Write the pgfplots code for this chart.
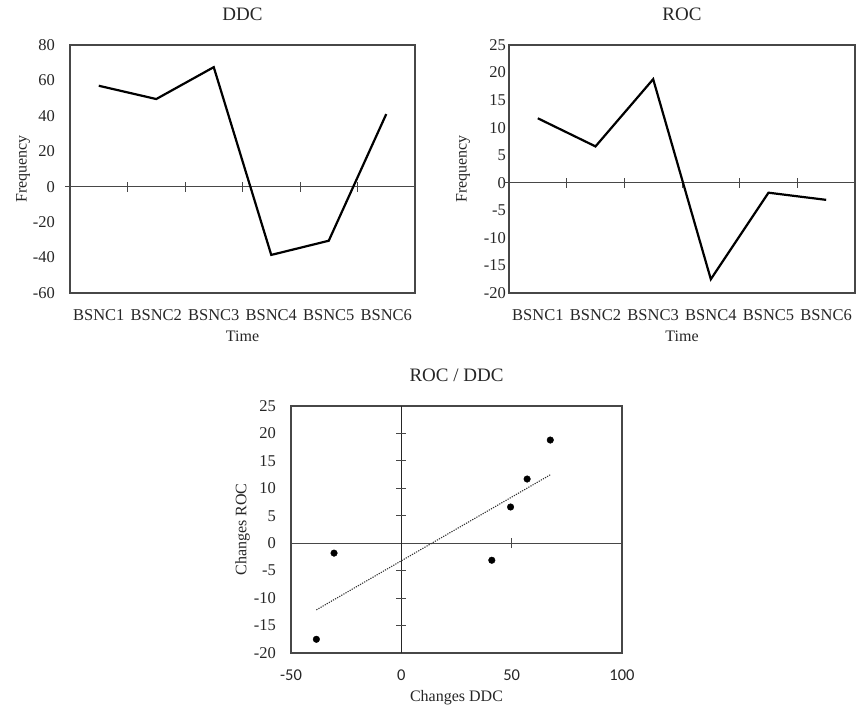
\documentclass[border=0pt]{standalone}
\usepackage{fontspec}
\setmainfont{Liberation Serif}
\newfontfamily\carlito{Carlito}
\usepackage{pgfplots}
\pgfplotsset{compat=1.18}
\pgfplotsset{
  base/.style={
    scale only axis, clip=false,
    /pgf/number format/assume math mode=true,
    axis line style={draw=black!72, line width=1.2pt},
    tick style={draw=none},
    tick label style={font=\fontsize{16.5}{19}\selectfont, text=black!85},
    label style={font=\fontsize{16}{19}\selectfont, text=black!85},
    title style={font=\fontsize{19}{22}\selectfont, text=black!85, at={(axis description cs:0.5,1)}, anchor=center, yshift=25pt},
    xlabel style={at={(axis description cs:0.5,0)}, anchor=center, yshift=-43pt},
    xticklabel style={anchor=center, yshift=-22pt},
    yticklabel style={anchor=east, inner sep=0pt},
  },
  cat/.style={
    base, xmin=-0.5, xmax=5.5, xtick={0,1,2,3,4,5},
    xticklabels={BSNC1,BSNC2,BSNC3,BSNC4,BSNC5,BSNC6},
    xlabel={Time}, ylabel={Frequency},
  },
}
\begin{document}
\begin{tikzpicture}
\path[use as bounding box] (0,0) rectangle (857pt,-707pt);

% DDC
\begin{axis}[cat, at={(70pt,-293pt)}, anchor=south west, width=345pt, height=248pt,
  ymin=-60, ymax=80, ytick={-60,-40,...,80}, title={DDC},
  yticklabel style={xshift=-15pt},
  ylabel style={at={([xshift=-47pt]axis description cs:0,0.5)}, anchor=center, rotate=0}]
\draw[black!72, line width=1pt] ([xshift=-5pt]axis cs:-0.5,0) -- (axis cs:5.5,0);
\pgfplotsinvokeforeach{0.5,1.5,2.5,3.5,4.5}{\draw[black!72, line width=1pt] ([yshift=-5pt]axis cs:#1,0) -- ([yshift=5pt]axis cs:#1,0);}
\addplot[black, line width=2.2pt, mark=none] coordinates {(0,57) (1,49.5) (2,67.5) (3,-38.5) (4,-30.5) (5,41)};
\end{axis}

% ROC
\begin{axis}[cat, at={(509pt,-293pt)}, anchor=south west, width=346pt, height=248pt,
  ymin=-20, ymax=25, ytick={-20,-15,...,25}, title={ROC},
  yticklabel style={xshift=-3pt},
  ylabel style={at={([xshift=-46pt]axis description cs:0,0.5)}, anchor=center}]
\draw[black!72, line width=1pt] ([xshift=-5pt]axis cs:-0.5,0) -- (axis cs:5.5,0);
\pgfplotsinvokeforeach{0.5,1.5,2.5,3.5,4.5}{\draw[black!72, line width=1pt] ([yshift=-5pt]axis cs:#1,0) -- ([yshift=5pt]axis cs:#1,0);}
\addplot[black, line width=2.2pt, mark=none] coordinates {(0,11.7) (1,6.6) (2,18.8) (3,-17.5) (4,-1.8) (5,-3.1)};
\end{axis}

% ROC / DDC
\begin{axis}[base, at={(291pt,-653pt)}, anchor=south west, width=331pt, height=247pt,
  xmin=-50, xmax=100, xtick={-50,0,50,100},
  ymin=-20, ymax=25, ytick={-20,-15,...,25},
  xticklabel style={font=\carlito\fontsize{16.5}{19}\selectfont},
  title={ROC / DDC}, xlabel={Changes DDC}, ylabel={Changes ROC},
  yticklabel style={xshift=-15pt},
  ylabel style={at={([xshift=-48.5pt]axis description cs:0,0.5)}, anchor=center},
  xlabel style={yshift=-2pt}]
\draw[black!72, line width=1pt] (axis cs:-50,0) -- (axis cs:100,0);
\draw[black!85, line width=1.2pt] (axis cs:0,-20) -- (axis cs:0,25);
\draw[black!72, line width=1pt] ([yshift=-5pt]axis cs:50,0) -- ([yshift=5pt]axis cs:50,0);
\pgfplotsinvokeforeach{-15,-10,-5,5,10,15,20}{\draw[black!72, line width=1pt] ([xshift=-5pt]axis cs:0,#1) -- ([xshift=5pt]axis cs:0,#1);}
\addplot[black!80, line width=1.1pt, dash pattern=on 1.2pt off 1.2pt, mark=none] coordinates {(-38.5,-12.14) (67.5,12.47)};
\addplot[only marks, mark=*, mark size=3.3pt, black] coordinates {(57,11.7) (49.5,6.6) (67.5,18.8) (-38.5,-17.5) (-30.5,-1.8) (41,-3.1)};
\end{axis}
\end{tikzpicture}
\end{document}
